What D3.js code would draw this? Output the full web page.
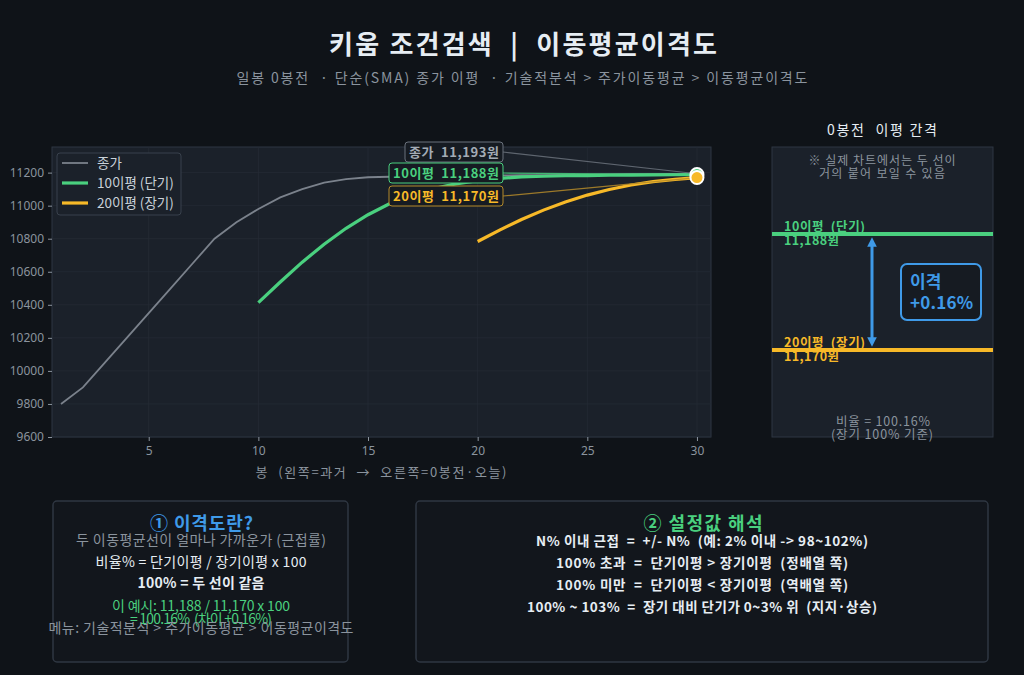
<!DOCTYPE html>
<html>
<head>
<meta charset="utf-8">
<script src="https://cdn.jsdelivr.net/npm/d3@7"></script>
<style>
  html, body { margin: 0; padding: 0; background: #0f1318; }
  svg { display: block; font-family: "Noto Sans CJK KR", "Noto Sans", sans-serif; }
  svg text { white-space: pre; }
</style>
</head>
<body>
<svg id="chart" width="1024" height="675"></svg>
<script>
// --- data ---
const bars = d3.range(1, 31)
const close = [9800, 9900, 10050, 10200, 10350, 10500, 10650, 10800, 10900, 10980,
  11050, 11100, 11140, 11160, 11172, 11175, 11178, 11180, 11182, 11183,
  11183, 11184, 11185, 11186, 11187, 11189, 11190, 11191, 11192, 11193]
const ma10 = [10413, 10538, 10658, 10767, 10863, 10945, 11013, 11066, 11104, 11132,
  11152, 11165, 11174, 11178, 11181, 11182, 11184, 11185, 11186, 11187, 11188]
const ma20 = [10783, 10852, 10916, 10973, 11022, 11064, 11098, 11125, 11145, 11159, 11170]
const yTicks = [9600, 9800, 10000, 10200, 10400, 10600, 10800, 11000, 11200]
const xTicks = [5, 10, 15, 20, 25, 30]
const seriesNames = ['종가', '10이평 (단기)', '20이평 (장기)']
const endLabels = [['종가', '11,193원'], ['10이평', '11,188원'], ['20이평', '11,170원']]
const gapValues = [11188, 11170]
const box1Lines = ['두 이동평균선이 얼마나 가까운가 (근접률)', '비율% = 단기이평 / 장기이평 x 100',
  '100% = 두 선이 같음', '이 예시: 11,188 / 11,170 x 100', '= 100.16%  (차이 +0.16%)',
  '메뉴: 기술적분석 > 주가이동평균 > 이동평균이격도']
const box2Lines = ['N% 이내 근접  =  +/- N%  (예: 2% 이내 -> 98~102%)',
  '100% 초과  =  단기이평 > 장기이평  (정배열 쪽)',
  '100% 미만  =  단기이평 < 장기이평  (역배열 쪽)',
  '100% ~ 103%  =  장기 대비 단기가 0~3% 위  (지지·상승)']

const C = {
  bg: '#0f1318', panel: '#1b212a', border: '#2f3742', grid: '#242b35',
  text: '#e6edf3', muted: '#8b949e', gray: '#7b828c',
  green: '#4ad07f', amber: '#f7b928', blue: '#3f9ae8'
}

const svg = d3.select('#chart')
svg.append('rect').attr('width', 1024).attr('height', 675).attr('fill', C.bg)

// text helper: anchored text, stretched to the width seen in the reference
function label (parent, x, y, str, opts = {}) {
  const t = parent.append('text').attr('x', x).attr('y', y)
    .attr('text-anchor', opts.anchor || 'middle')
    .attr('font-size', opts.size || 12).attr('font-weight', opts.weight || 400)
    .attr('fill', opts.fill || C.text).text(str)
  if (opts.width) t.attr('textLength', opts.width).attr('lengthAdjust', 'spacing')
  return t
}

// titles
label(svg, 523, 54, '키움 조건검색  |  이동평균이격도', {size: 26, weight: 700, width: 388})
label(svg, 522, 83, '일봉 0봉전  · 단순(SMA) 종가 이평  · 기술적분석 > 주가이동평균 > 이동평균이격도',
  {size: 14, fill: C.muted, width: 571})

// --- main chart ---
const plot = {x0: 52, x1: 711, y0: 147, y1: 437}
const x = d3.scaleLinear().domain([0.59, 30.64]).range([plot.x0, plot.x1])
const y = d3.scaleLinear().domain([9600, 11355]).range([plot.y1, plot.y0])

const g = svg.append('g')
g.append('rect').attr('x', plot.x0).attr('y', plot.y0)
  .attr('width', plot.x1 - plot.x0).attr('height', plot.y1 - plot.y0)
  .attr('fill', C.panel).attr('stroke', C.border)

g.selectAll('.gy').data(yTicks).join('line').attr('class', 'gy')
  .attr('x1', plot.x0).attr('x2', plot.x1).attr('y1', d => y(d)).attr('y2', d => y(d))
  .attr('stroke', C.grid).attr('stroke-width', 0.8)
g.selectAll('.gx').data(xTicks).join('line').attr('class', 'gx')
  .attr('y1', plot.y0).attr('y2', plot.y1).attr('x1', d => x(d)).attr('x2', d => x(d))
  .attr('stroke', C.grid).attr('stroke-width', 0.8)

const yAxis = g.append('g').attr('transform', `translate(${plot.x0},0)`)
  .call(d3.axisLeft(y).tickValues(yTicks).tickFormat(d3.format('d')).tickSize(4).tickPadding(4))
const xAxis = g.append('g').attr('transform', `translate(0,${plot.y1})`)
  .call(d3.axisBottom(x).tickValues(xTicks).tickSize(4).tickPadding(5))
for (const a of [yAxis, xAxis]) {
  a.select('.domain').remove()
  a.selectAll('line').attr('stroke', C.muted)
  a.selectAll('text').attr('fill', C.muted).attr('font-size', 12)
    .attr('font-family', '"Noto Sans", sans-serif')
}
label(g, 381, 477, '봉  (왼쪽=과거  →  오른쪽=0봉전·오늘)', {size: 13, fill: C.muted, width: 251})

const line = d3.line().x(d => x(d[0])).y(d => y(d[1]))
const closePts = bars.map((b, i) => [b, close[i]])
const ma10Pts = ma10.map((v, i) => [10 + i, v])
const ma20Pts = ma20.map((v, i) => [20 + i, v])

g.append('path').datum(closePts).attr('d', line).attr('fill', 'none')
  .attr('stroke', C.gray).attr('stroke-width', 1.8)
g.append('path').datum(ma10Pts).attr('d', line).attr('fill', 'none')
  .attr('stroke', C.green).attr('stroke-width', 3.2)
g.append('path').datum(ma20Pts).attr('d', line).attr('fill', 'none')
  .attr('stroke', C.amber).attr('stroke-width', 3.2)

// end labels with leader lines
const lastX = x(30)
const ends = [close[29], ma10[ma10.length - 1], ma20[ma20.length - 1]]
const labelColors = ['#a3abb5', C.green, C.amber]
const strokeColors = ['#6b727c', C.green, '#b48a2a']
const labelY = [152, 173, 196]
const labelWidths = [90, 106, 106]
const boxRight = 503
endLabels.forEach((lab, i) => {
  const lg = g.append('g')
  const t = label(lg, boxRight - 4, labelY[i] + 4.5, lab[0] + '  ' + lab[1],
    {anchor: 'end', size: 13, weight: 700, fill: labelColors[i], width: labelWidths[i]})
  const bb = t.node().getBBox()
  lg.insert('line', 'text').attr('x1', boxRight).attr('y1', labelY[i])
    .attr('x2', lastX).attr('y2', y(ends[i]))
    .attr('stroke', strokeColors[i]).attr('stroke-width', 1.2).attr('opacity', 0.85)
  lg.insert('rect', 'text').attr('x', bb.x - 4).attr('y', labelY[i] - 10)
    .attr('width', boxRight - bb.x + 4).attr('height', 20).attr('rx', 3)
    .attr('fill', '#161b22').attr('stroke', strokeColors[i]).attr('stroke-width', 1)
})

// endpoint markers
g.append('circle').attr('cx', lastX).attr('cy', y(ends[1])).attr('r', 6.5)
  .attr('fill', C.green).attr('stroke', '#fff').attr('stroke-width', 2)
g.append('circle').attr('cx', lastX).attr('cy', y(ends[2])).attr('r', 6.5)
  .attr('fill', C.amber).attr('stroke', '#fff').attr('stroke-width', 2)

// legend
const leg = g.append('g').attr('transform', 'translate(57,153)')
leg.append('rect').attr('width', 124).attr('height', 62).attr('rx', 3)
  .attr('fill', C.panel).attr('stroke', '#39414c')
const legColors = [C.gray, C.green, C.amber]
const legWidths = [1.8, 3.2, 3.2]
seriesNames.forEach((name, i) => {
  leg.append('line').attr('x1', 5).attr('x2', 31).attr('y1', 10 + i * 20).attr('y2', 10 + i * 20)
    .attr('stroke', legColors[i]).attr('stroke-width', legWidths[i])
  label(leg, 40, 14.5 + i * 20, name, {anchor: 'start', size: 13.5, fill: '#c9d1d9'})
})

// --- right panel: gap ---
const rp = {x0: 772, x1: 993, y0: 147, y1: 437}
const ry = d3.scaleLinear().domain([11156.5, 11201.5]).range([rp.y1, rp.y0])
const r = svg.append('g')
label(r, 882, 135, '0봉전  이평 간격', {size: 14, width: 110})
r.append('rect').attr('x', rp.x0).attr('y', rp.y0).attr('width', rp.x1 - rp.x0)
  .attr('height', rp.y1 - rp.y0).attr('fill', C.panel).attr('stroke', C.border)
label(r, 882, 165, '※ 실제 차트에서는 두 선이', {size: 12, fill: C.muted, width: 147})
label(r, 882, 178, '거의 붙어 보일 수 있음', {size: 12, fill: C.muted, width: 126})

const gapColors = [C.green, C.amber]
const gapNames = ['10이평  (단기)', '20이평  (장기)']
gapValues.forEach((v, i) => {
  r.append('line').attr('x1', rp.x0).attr('x2', rp.x1).attr('y1', ry(v)).attr('y2', ry(v))
    .attr('stroke', gapColors[i]).attr('stroke-width', 4)
  label(r, 784, ry(v) - 3, gapNames[i], {anchor: 'start', size: 12.5, weight: 700, fill: gapColors[i], width: 81})
  label(r, 784, ry(v) + 11, endLabels[i + 1][1], {anchor: 'start', size: 12.5, weight: 700, fill: gapColors[i], width: 55})
})

const defs = svg.append('defs')
defs.append('marker').attr('id', 'arr').attr('viewBox', '0 0 10 10')
  .attr('refX', 5).attr('refY', 5).attr('markerWidth', 3.2).attr('markerHeight', 3.2)
  .attr('orient', 'auto-start-reverse')
  .append('path').attr('d', 'M0,0L10,5L0,10Z').attr('fill', C.blue)
r.append('line').attr('x1', 872).attr('x2', 872)
  .attr('y1', ry(gapValues[0]) + 8).attr('y2', ry(gapValues[1]) - 8)
  .attr('stroke', C.blue).attr('stroke-width', 3)
  .attr('marker-start', 'url(#arr)').attr('marker-end', 'url(#arr)')
r.append('rect').attr('x', 901).attr('y', 264).attr('width', 80).attr('height', 56).attr('rx', 6)
  .attr('fill', '#161b22').attr('stroke', C.blue).attr('stroke-width', 2)
label(r, 910, 288, '이격', {anchor: 'start', size: 17, weight: 700, fill: C.blue})
label(r, 910, 309, '+0.16%', {anchor: 'start', size: 17, weight: 700, fill: C.blue, width: 63})
label(r, 883, 426, '비율 = 100.16%', {size: 12.5, fill: C.muted, width: 94})
label(r, 882, 439, '(장기 100% 기준)', {size: 12.5, fill: C.muted, width: 102})

// --- bottom info boxes ---
function infoBox (x0, w, title, color, titleWidth) {
  const b = svg.append('g')
  b.append('rect').attr('x', x0).attr('y', 501).attr('width', w).attr('height', 161).attr('rx', 4)
    .attr('fill', '#12161c').attr('stroke', C.border).attr('stroke-width', 1.5)
  label(b, x0 + w / 2 + 1, 530, title, {size: 18, weight: 700, fill: color, width: titleWidth})
  return b
}
const b1 = infoBox(53, 295, '① 이격도란?', C.blue, 103)
const b1Y = [545, 567, 588, 611, 624, 633]
const b1Style = [[C.muted, 400, 250], [C.text, 400, 211], [C.text, 700, 127],
  [C.green, 400, 178], [C.green, 400, 142], [C.muted, 400, 305]]
box1Lines.forEach((t, i) => {
  label(b1, 201, b1Y[i], t, {size: 14, fill: b1Style[i][0], weight: b1Style[i][1], width: b1Style[i][2]})
})
const b2 = infoBox(416, 572, '② 설정값 해석', C.green, 119)
const b2Widths = [332, 292, 292, 350]
box2Lines.forEach((t, i) => {
  label(b2, 702, 546 + i * 22, t, {size: 13.5, weight: 700, width: b2Widths[i]})
})
</script>
</body>
</html>
